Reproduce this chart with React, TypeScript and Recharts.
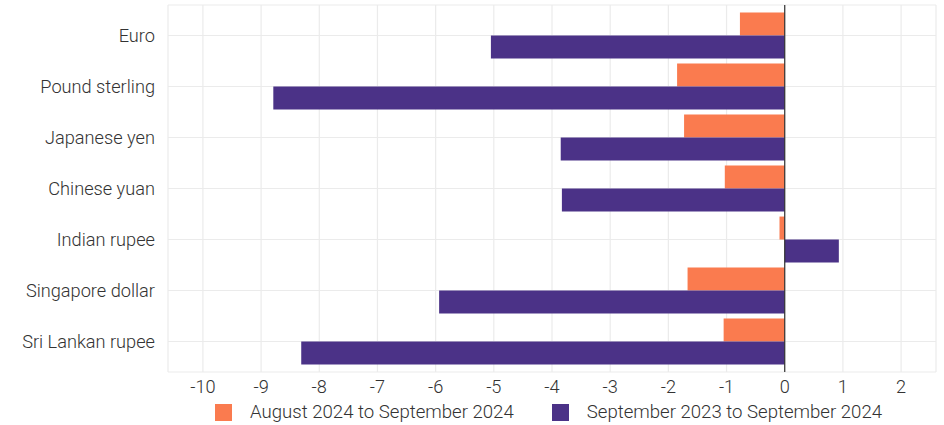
import {
  Bar,
  BarChart,
  CartesianGrid,
  Legend,
  ReferenceLine,
  XAxis,
  YAxis,
} from "recharts";

const currencies = [
  "Euro",
  "Pound sterling",
  "Japanese yen",
  "Chinese yuan",
  "Indian rupee",
  "Singapore dollar",
  "Sri Lankan rupee",
];
const monthChange = [-0.77, -1.85, -1.73, -1.03, -0.09, -1.67, -1.05];
const yearChange = [-5.05, -8.79, -3.85, -3.83, 0.93, -5.94, -8.31];
const xTicks = [-10, -9, -8, -7, -6, -5, -4, -3, -2, -1, 0, 1, 2];

const seriesNames = ["August 2024 to September 2024", "September 2023 to September 2024"];
const ORANGE = "#fa7b4f";
const PURPLE = "#4b3287";
const FONT = "'Roboto Light', Roboto, 'Noto Sans', sans-serif";

const data = currencies.map((c, i) => ({
  name: c,
  month: monthChange[i],
  year: yearChange[i],
}));

function LegendBox() {
  const items = [
    { label: seriesNames[0], color: ORANGE },
    { label: seriesNames[1], color: PURPLE },
  ];
  return (
    <div style={{ display: "flex", alignItems: "center", height: 26, paddingLeft: 215, fontFamily: FONT, fontWeight: 300, fontSize: 18.6, color: "#333" }}>
      {items.map((it, i) => (
        <div key={it.label} style={{ display: "flex", alignItems: "center", marginLeft: i === 0 ? 0 : 38 }}>
          <span style={{ width: 17, height: 17, background: it.color, display: "inline-block", marginRight: 18 }} />
          <span>{it.label}</span>
        </div>
      ))}
    </div>
  );
}

export default function App() {
  const tick = { fill: "#333", fontSize: 18.2, fontFamily: FONT, fontWeight: 300 };
  return (
    <div style={{ position: "absolute", left: 0, top: 0, width: 944, height: 425, background: "#fff" }}>
      <BarChart
        width={944}
        height={425}
        data={data}
        layout="vertical"
        margin={{ top: 5, right: 8, bottom: 0, left: 0 }}
        barCategoryGap="5%"
        barGap={0}
      >
        <CartesianGrid stroke="#ebebeb" strokeWidth={1.2} />
        <XAxis
          type="number"
          domain={[-10.6, 2.6]}
          ticks={xTicks}
          allowDataOverflow
          axisLine={false}
          tickLine={false}
          tickSize={0}
          tickMargin={8}
          height={27}
          tick={tick}
        />
        <YAxis
          type="category"
          dataKey="name"
          width={168}
          axisLine={false}
          tickLine={false}
          tickSize={0}
          tickMargin={13}
          padding={{ top: 5, bottom: 5 }}
          tick={tick}
        />
        <Bar dataKey="month" name={seriesNames[0]} fill={ORANGE} isAnimationActive={false} />
        <Bar dataKey="year" name={seriesNames[1]} fill={PURPLE} isAnimationActive={false} />
        <ReferenceLine x={0} stroke="#333" strokeWidth={1.2} />
        <Legend verticalAlign="bottom" height={26} content={() => <LegendBox />} />
      </BarChart>
    </div>
  );
}
